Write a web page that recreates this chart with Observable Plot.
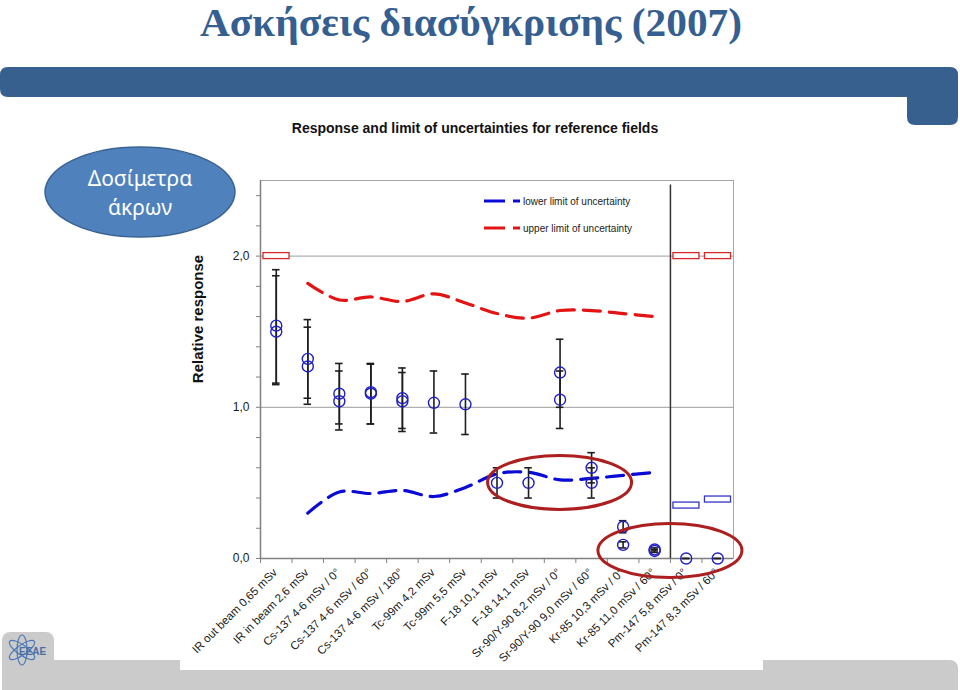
<!DOCTYPE html>
<html><head><meta charset="utf-8">
<script src="https://cdn.jsdelivr.net/npm/d3@7"></script>
<script src="https://cdn.jsdelivr.net/npm/@observablehq/plot@0.6"></script>
<style>
html,body{margin:0;padding:0;background:#fff;width:960px;height:690px;overflow:hidden;}
#slide{position:absolute;left:0;top:0;}
#chart{position:absolute;left:0;top:0;width:960px;height:690px;}
</style></head><body>
<svg id="slide" width="960" height="690">
  <text x="471" y="36" text-anchor="middle" font-family="'Liberation Serif', serif" font-weight="bold" font-size="40" fill="#365F91" textLength="542" lengthAdjust="spacingAndGlyphs">Ασκήσεις διασύγκρισης (2007)</text>
  <path d="M 8,67 H 950 Q 958,67 958,75 V 117 Q 958,125 950,125 H 915 Q 907,125 907,117 V 97 H 8 Q 0,97 0,89 V 75 Q 0,67 8,67 Z" fill="#37608f"/>
  <rect x="2" y="660" width="956" height="40" rx="8" fill="#cbcbcb"/>
  <rect x="2" y="632" width="52" height="70" rx="8" fill="#cbcbcb"/>
  <rect x="180" y="104" width="583" height="566" fill="#ffffff"/>
  <g fill="none" stroke="#4a78b4" stroke-width="1.2">
    <ellipse cx="22" cy="650" rx="15" ry="5" transform="rotate(-35 22 650)"/>
    <ellipse cx="22" cy="650" rx="15" ry="5" transform="rotate(35 22 650)"/>
    <ellipse cx="22" cy="650" rx="15" ry="5" transform="rotate(90 22 650)"/>
  </g>
  <text x="19" y="655" font-family="'Liberation Sans', Arial, sans-serif" font-weight="bold" font-size="10" fill="#4a6fa5">ΕΕΑΕ</text>
  <ellipse cx="140" cy="192" rx="95" ry="45" fill="#4f81bd" stroke="#3a6393" stroke-width="1.5"/>
  <text x="140" y="186" text-anchor="middle" font-family="'Noto Sans', sans-serif" font-size="21" fill="#ffffff">Δοσίμετρα</text>
  <text x="140" y="215" text-anchor="middle" font-family="'Noto Sans', sans-serif" font-size="21" fill="#ffffff">άκρων</text>
</svg>
<div id="chart"></div>
<script>
// ---- data ----
const categories = [
  "IR out beam 0,65 mSv",
  "IR in beam 2,6 mSv",
  "Cs-137 4-6 mSv / 0°",
  "Cs-137 4-6 mSv / 60°",
  "Cs-137 4-6 mSv / 180°",
  "Tc-99m 4,2 mSv",
  "Tc-99m 5,5 mSv",
  "F-18 10,1 mSv",
  "F-18 14,1 mSv",
  "Sr-90/Y-90 8,2 mSv / 0°",
  "Sr-90/Y-90 9,0 mSv / 60°",
  "Kr-85 10,3 mSv / 0°",
  "Kr-85 11,0 mSv / 60°",
  "Pm-147 5,8 mSv / 0°",
  "Pm-147 8,3 mSv / 60°"
];
// measured responses (two dosimeters per field where visible)
const measCategory = [0,0, 1,1, 2,2, 3,3, 4,4, 5, 6, 7, 8, 9,9, 10,10, 11,11, 12,12, 13, 14];
const measValue = [1.54,1.50, 1.32,1.27, 1.09,1.04, 1.10,1.09, 1.06,1.04, 1.03, 1.02, 0.50, 0.50, 1.23,1.05, 0.60,0.50, 0.21,0.09, 0.06,0.05, 0.00, 0.00];
const measLow   = [1.16,1.15, 1.06,1.02, 0.89,0.85, 0.89,0.89, 0.86,0.84, 0.83, 0.82, 0.40, 0.40, 1.00,0.86, 0.50,0.40, 0.17,0.07, 0.05,0.04, 0.00, 0.00];
const measHigh  = [1.91,1.87, 1.58,1.53, 1.29,1.24, 1.29,1.285, 1.26,1.23, 1.24, 1.22, 0.60, 0.60, 1.45,1.24, 0.70,0.60, 0.25,0.11, 0.07,0.06, 0.00, 0.00];
// limits of uncertainty (fields 1..12)
const limitCategory = [1,2,3,4,5,6,7,8,9,10,11,12];
const upperLimit = [1.82, 1.71, 1.73, 1.70, 1.75, 1.69, 1.62, 1.59, 1.64, 1.64, 1.62, 1.60];
const lowerLimit = [0.30, 0.44, 0.43, 0.45, 0.41, 0.47, 0.56, 0.57, 0.52, 0.53, 0.55, 0.57];
// single-field limits drawn as boxes
const upperBoxCategory = [0, 13, 14];
const upperBoxValue = [2.0, 2.0, 2.0];
const lowerBoxCategory = [13, 14];
const lowerBoxValue = [0.35, 0.39];
// axis ticks
const yTicks = [0, 0.2, 0.4, 0.6, 0.8, 1.0, 1.2, 1.4, 1.6, 1.8, 2.0, 2.2, 2.4];
const yLabelTicks = [0, 1, 2];
const gridValues = [1, 2];
// annotations
const separatorCategory = 13;
const highlightCategory = [9, 13];
const highlightValue = [0.50, 0.05];
const legendItems = ["lower limit of uncertainty", "upper limit of uncertainty"];
const legendColors = ["#0a0ad6", "#e31414"];

// ---- tables ----
const meas = measCategory.map((c, i) => ({cat: categories[c], v: measValue[i], lo: measLow[i], hi: measHigh[i]}));
const upper = limitCategory.map((c, i) => ({cat: categories[c], v: upperLimit[i]}));
const lower = limitCategory.map((c, i) => ({cat: categories[c], v: lowerLimit[i]}));
const upBox = upperBoxCategory.map((c, i) => ({cat: categories[c], v: upperBoxValue[i]}));
const loBox = lowerBoxCategory.map((c, i) => ({cat: categories[c], v: lowerBoxValue[i]}));

const W = 960, H = 690, mL = 260, mR = 227, mT = 180, mB = 132;
const half = (W - mL - mR) / categories.length / 2;
const fmt = d => d.toFixed(1).replace(".", ",");

const chart = Plot.plot({
  width: W, height: H,
  marginLeft: mL, marginRight: mR, marginTop: mT, marginBottom: mB,
  x: {type: "band", domain: categories, padding: 0, round: false},
  y: {domain: [0, 2.5]},
  style: {background: "transparent", fontFamily: "'Liberation Sans', Arial, sans-serif", fontSize: "11px", color: "#1a1a1a"},
  marks: [
    Plot.ruleY(gridValues, {stroke: "#9c9c9c", strokeWidth: 1}),
    Plot.frame({stroke: "#a8a8a8", strokeWidth: 1}),
    Plot.ruleY([0], {stroke: "#808080", strokeWidth: 1.5}),
    Plot.ruleX([categories[0]], {dx: -half, stroke: "#808080", strokeWidth: 1.5}),
    Plot.axisY({ticks: yTicks, tickSize: 4, tickFormat: () => "", label: null, stroke: "#808080"}),
    Plot.axisY({ticks: yLabelTicks, tickSize: 0, tickPadding: 11, tickFormat: fmt, label: null, fontSize: 12}),
    Plot.axisX({tickSize: 5, dx: -half, tickFormat: () => "", label: null, stroke: "#808080"}),
    Plot.axisX({tickSize: 0, tickPadding: 12, tickRotate: -45, label: null, fontSize: 11.5, dx: -1}),
    Plot.ruleX([categories[separatorCategory]], {dx: -half, y1: 0, y2: 2.47, stroke: "#333", strokeWidth: 1.5}),
    Plot.line(upper, {x: "cat", y: "v", curve: "catmull-rom", stroke: legendColors[1], strokeWidth: 3.2, strokeDasharray: "17,9"}),
    Plot.line(lower, {x: "cat", y: "v", curve: "catmull-rom", stroke: legendColors[0], strokeWidth: 3.2, strokeDasharray: "17,9"}),
    Plot.barY(upBox, {x: "cat", y1: "v", y2: "v", insetTop: -3, insetBottom: -3, insetLeft: 3, insetRight: 2.5, fill: "white", stroke: "#d42a2a", strokeWidth: 1.3}),
    Plot.barY(loBox, {x: "cat", y1: "v", y2: "v", insetTop: -3, insetBottom: -3, insetLeft: 3, insetRight: 2.5, fill: "white", stroke: "#3535c8", strokeWidth: 1.3}),
    Plot.ruleX(meas, {x: "cat", y1: "lo", y2: "hi", stroke: "#1e1e1e", strokeWidth: 1.6}),
    Plot.tickY(meas, {x: "cat", y: "lo", insetLeft: 12, insetRight: 12, stroke: "#1e1e1e", strokeWidth: 1.6}),
    Plot.tickY(meas, {x: "cat", y: "hi", insetLeft: 12, insetRight: 12, stroke: "#1e1e1e", strokeWidth: 1.6}),
    Plot.dot(meas, {x: "cat", y: "v", r: 5.5, stroke: "#1f1fc4", strokeWidth: 1.4, fill: "none"})
  ]
});
document.getElementById("chart").appendChild(chart);

// ---- overlays positioned through the chart's scales ----
const sx = chart.scale("x"), sy = chart.scale("y");
const svg = d3.select(chart);
const bw = sx.bandwidth;
highlightCategory.forEach((c, i) => {
  const cx = sx.apply(categories[c]) + (c === separatorCategory ? 0 : bw / 2);
  svg.append("ellipse").attr("cx", cx).attr("cy", sy.apply(highlightValue[i]))
    .attr("rx", 72).attr("ry", 27).attr("fill", "none").attr("stroke", "#ad1f1f").attr("stroke-width", 3);
});
// chart title
svg.append("text").attr("x", 475).attr("y", 133).attr("text-anchor", "middle")
  .attr("font-weight", "bold").attr("font-size", 14).attr("fill", "#111")
  .text("Response and limit of uncertainties for reference fields");
// y-axis title
svg.append("text").attr("transform", "translate(203,319) rotate(-90)").attr("text-anchor", "middle")
  .attr("font-weight", "bold").attr("font-size", 15).attr("fill", "#111").text("Relative response");
// legend
legendItems.forEach((t, i) => {
  const y = 201 + i * 27;
  const g = svg.append("g");
  g.append("line").attr("x1", 484).attr("x2", 505).attr("y1", y).attr("y2", y).attr("stroke", legendColors[i]).attr("stroke-width", 3);
  g.append("line").attr("x1", 513).attr("x2", 520).attr("y1", y).attr("y2", y).attr("stroke", legendColors[i]).attr("stroke-width", 3);
  g.append("text").attr("x", 523).attr("y", y + 3.5).attr("text-anchor", "start").attr("font-size", 10).attr("fill", "#222").text(t);
});
</script>
</body></html>
